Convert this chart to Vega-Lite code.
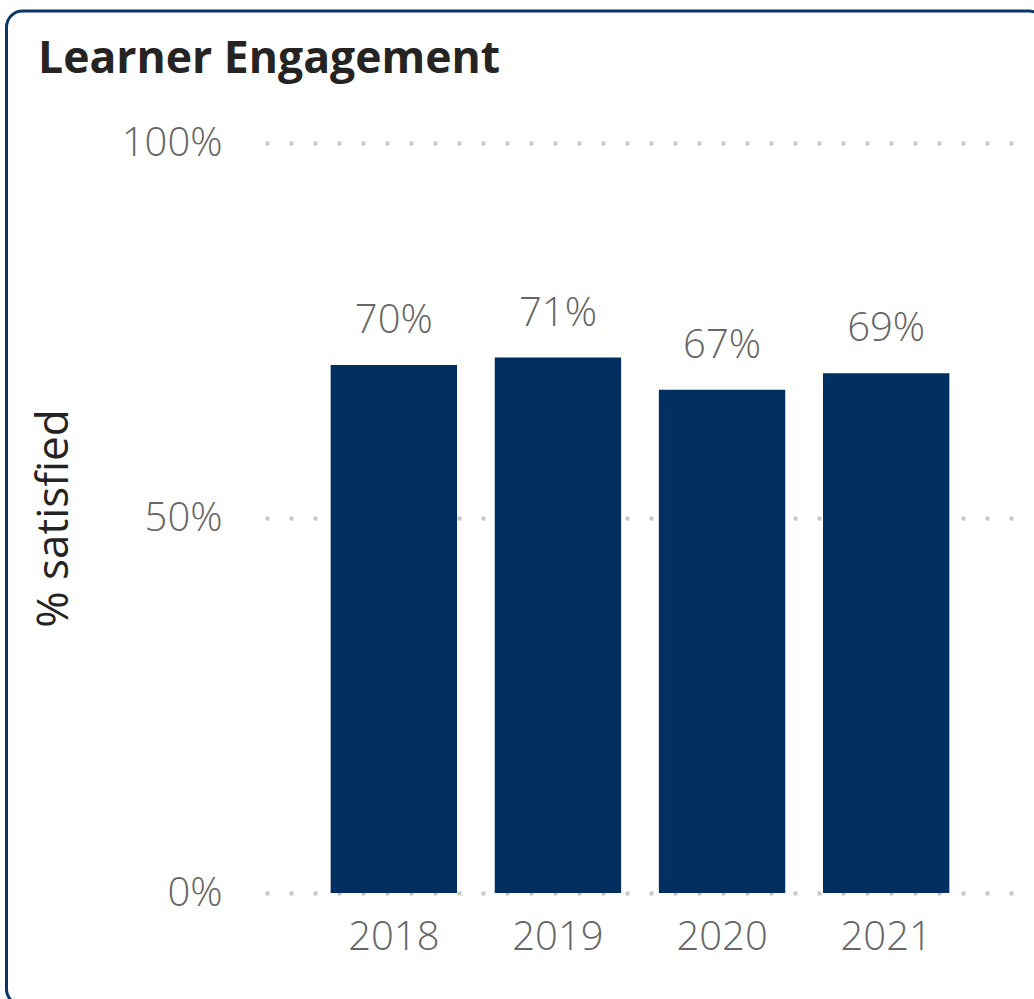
{
  "$schema": "https://vega.github.io/schema/vega-lite/v6.json",
  "width": 750,
  "height": 750,
  "autosize": "none",
  "padding": {"left": 265, "top": 143, "right": 19, "bottom": 106},
  "background": "white",
  "title": {
    "text": "Learner Engagement",
    "anchor": "start",
    "frame": "group",
    "dx": -227,
    "dy": 46,
    "offset": -62,
    "baseline": "alphabetic",
    "font": "Open Sans",
    "fontSize": 44.5,
    "fontWeight": "bold",
    "color": "#252423"
  },
  "config": {
    "view": {"stroke": null},
    "axis": {
      "labelFont": "Open Sans",
      "titleFont": "Open Sans",
      "labelColor": "#666666",
      "labelFontSize": 40,
      "labelFontWeight": 300,
      "domain": false,
      "ticks": false
    }
  },
  "layer": [
    {
      "data": {"values": [{"frame": "card"}]},
      "mark": {
        "type": "rect",
        "fillOpacity": 0,
        "stroke": "#0b3766",
        "strokeWidth": 3,
        "cornerRadius": 16
      },
      "encoding": {
        "x": {"value": -258.5},
        "x2": {"value": 780},
        "y": {"value": -132},
        "y2": {"value": 862}
      }
    },
    {
      "data": {
        "values": [
          {"year": "2018", "pct": 0.704},
          {"year": "2019", "pct": 0.714},
          {"year": "2020", "pct": 0.671},
          {"year": "2021", "pct": 0.693}
        ]
      },
      "layer": [
        {
          "mark": {"type": "bar", "color": "#012f5f"},
          "encoding": {
            "x": {
              "field": "year",
              "type": "ordinal",
              "scale": {"paddingInner": 0.23, "paddingOuter": 0.4},
              "axis": {"title": null, "labelAngle": 0, "labelPadding": 24}
            },
            "y": {
              "field": "pct",
              "type": "quantitative",
              "scale": {"domain": [0, 1]},
              "axis": {
                "values": [0, 0.5, 1],
                "format": ".0%",
                "title": "% satisfied",
                "titleFontSize": 44,
                "titleFontWeight": "normal",
                "titleColor": "#252423",
                "titlePadding": 45,
                "labelPadding": 43,
                "grid": true,
                "gridColor": "#c8c8c8",
                "gridWidth": 4,
                "gridDash": [4, 20]
              }
            }
          }
        },
        {
          "mark": {
            "type": "text",
            "baseline": "alphabetic",
            "dy": -32,
            "font": "Open Sans",
            "fontSize": 40,
            "fontWeight": 300,
            "color": "#666666"
          },
          "encoding": {
            "x": {"field": "year", "type": "ordinal"},
            "y": {"field": "pct", "type": "quantitative"},
            "text": {"field": "pct", "type": "quantitative", "format": ".0%"}
          }
        }
      ]
    }
  ]
}
